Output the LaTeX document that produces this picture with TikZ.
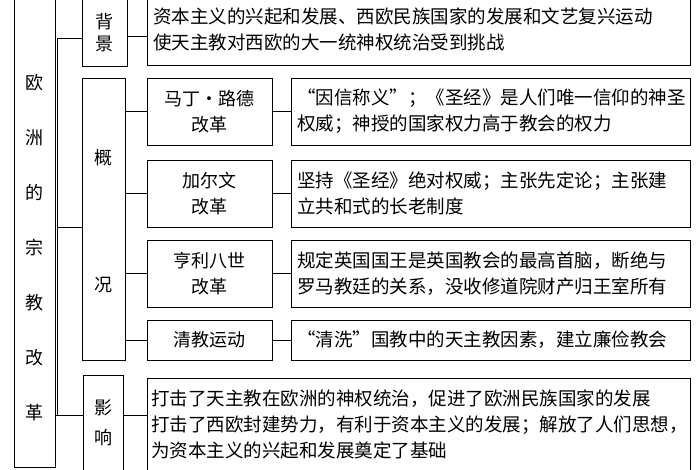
\documentclass[tikz,border=0pt]{standalone}
\usepackage{fontspec}
\setmainfont{Noto Sans CJK SC}
\begin{document}
\begin{tikzpicture}[x=1pt,y=-1pt,
  bx/.style={draw,line width=0.9pt,rectangle},
  ln/.style={line width=0.9pt},
  tx/.style={font=\fontsize{18.5}{26}\selectfont,align=left,anchor=west,inner sep=0pt},
  ct/.style={font=\fontsize{18}{26}\selectfont,align=center,inner sep=0pt}]
\useasboundingbox (0,0) rectangle (700,470);
\clip (0,0) rectangle (700,470);
% main
\draw[bx] (14,-5) rectangle (55,467);
\node[ct,font=\fontsize{18}{55}\selectfont] (m) at (34.5,248) {欧\\洲\\的\\宗\\教\\改\\革};
\draw[ln] (57,38) -- (57,415);
\draw[ln] (55,415) -- (83,415);
\draw[ln] (57,38) -- (82,38);
\draw[ln] (57,227) -- (82,227);
% 背景
\draw[bx] (82,-5) rectangle (127,66);
\node[ct,font=\fontsize{18}{22}\selectfont] (bj) at (104.5,33) {背\\景};
\draw[bx] (147,-5) rectangle (690,65);
\node[tx] (bjc) at (153,29) {资本主义的兴起和发展、西欧民族国家的发展和文艺复兴运动\\使天主教对西欧的大一统神权统治受到挑战};
\draw[ln] (127,36) -- (147,36);
% 概况
\draw[bx] (82,78) rectangle (125,360);
\node[ct] (g1) at (103.5,158) {概};
\node[ct] (g2) at (103.5,285) {况};
\foreach \ya/\yb/\t/\c [count=\i] in {
 78/145/{马丁·路德\\改革}/{“因信称义”；《圣经》是人们唯一信仰的神圣\\权威；神授的国家权力高于教会的权力},
 160/227/{加尔文\\改革}/{坚持《圣经》绝对权威；主张先定论；主张建\\立共和式的长老制度},
 240/307/{亨利八世\\改革}/{规定英国国王是英国教会的最高首脑，断绝与\\罗马教廷的关系，没收修道院财产归王室所有},
 320/360/{清教运动}/{“清洗”国教中的天主教因素，建立廉俭教会}}{
  \draw[bx] (147,\ya) rectangle (272,\yb);
  \node[ct] (s\i) at (209.5,{(\ya+\yb)/2}) {\t};
  \draw[bx] (291,\ya) rectangle (690,\yb);
  \node[tx] (c\i) at (297,{(\ya+\yb)/2}) {\c};
  \draw[ln] (125,{(\ya+\yb)/2}) -- (147,{(\ya+\yb)/2});
  \draw[ln] (272,{(\ya+\yb)/2}) -- (291,{(\ya+\yb)/2});
}
% 影响
\draw[bx] (83,375) rectangle (123,475);
\node[ct,font=\fontsize{18}{30}\selectfont] (yx) at (103,423) {影\\响};
\draw[bx] (147,378) rectangle (690,475);
\node[tx] (yxc) at (151,424) {打击了天主教在欧洲的神权统治，促进了欧洲民族国家的发展\\打击了西欧封建势力，有利于资本主义的发展；解放了人们思想，\\为资本主义的兴起和发展奠定了基础};
\draw[ln] (123,415) -- (147,415);
\end{tikzpicture}
\end{document}
